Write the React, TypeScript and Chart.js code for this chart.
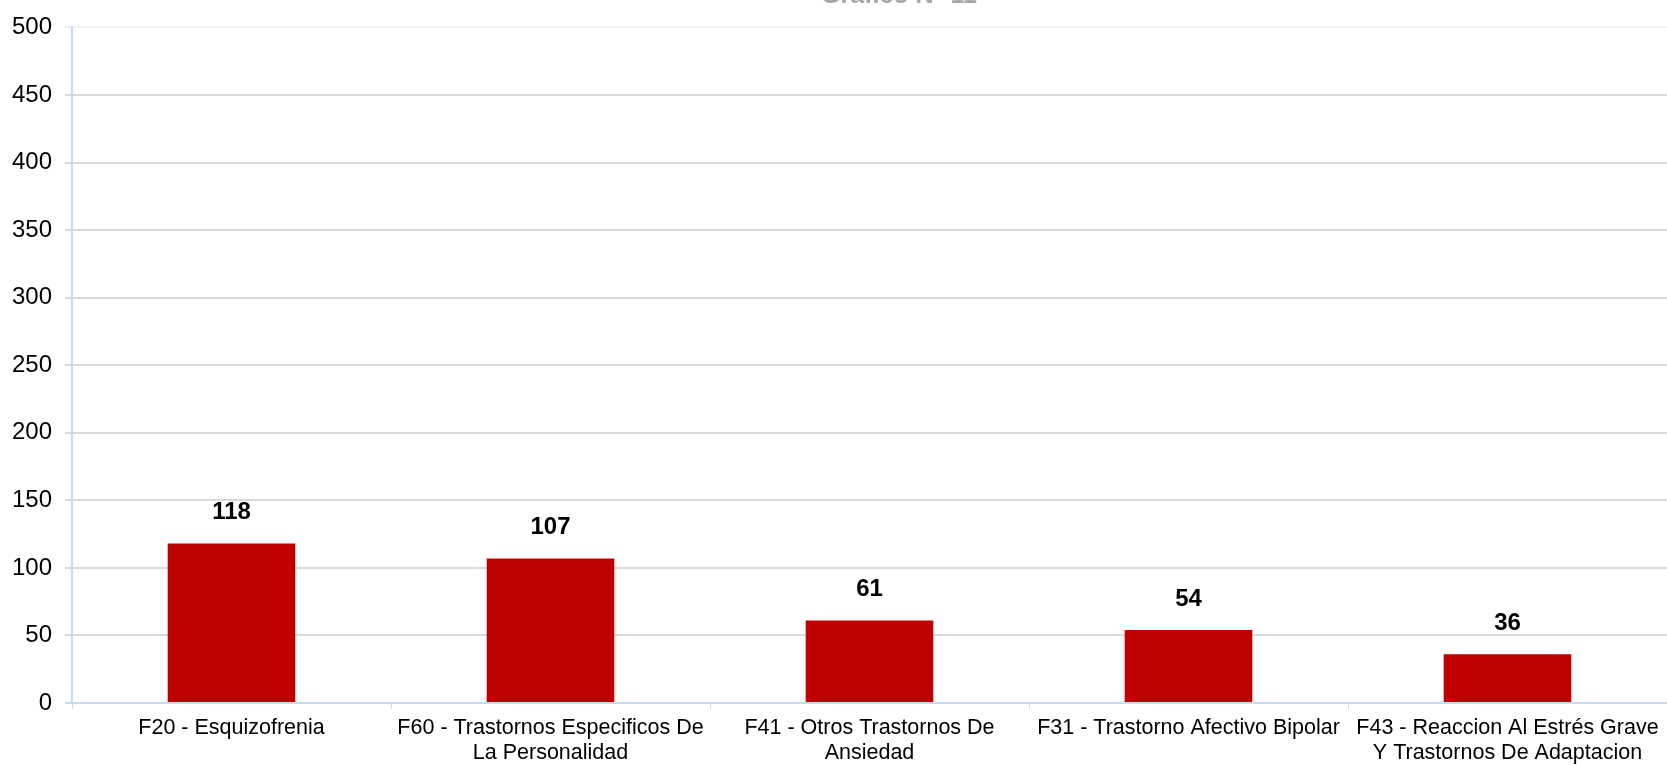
import React, { useEffect, useRef } from "react";
import { Chart, registerables } from "chart.js";

Chart.register(...registerables);

const categories: string[][] = [
  ["F20 - Esquizofrenia"],
  ["F60 - Trastornos Especificos De", "La Personalidad"],
  ["F41 - Otros Trastornos De", "Ansiedad"],
  ["F31 - Trastorno Afectivo Bipolar"],
  ["F43 - Reaccion Al Estrés Grave", "Y Trastornos De Adaptacion"],
];
const values: number[] = [118, 107, 61, 54, 36];
const titleText = "Gráfico N° 11";
const yMax = 500;
const yStep = 50;

const FONT = "'Liberation Sans', Arial, sans-serif";

export default function App() {
  const ref = useRef<HTMLCanvasElement | null>(null);

  useEffect(() => {
    document.body.style.margin = "0";
    if (!ref.current) return;

    const labelPlugin = {
      id: "valueLabels",
      afterDatasetsDraw(chart: any) {
        const ctx = chart.ctx;
        const meta = chart.getDatasetMeta(0);
        ctx.save();
        ctx.font = `bold 24px ${FONT}`;
        ctx.fillStyle = "#000000";
        ctx.textAlign = "center";
        ctx.textBaseline = "middle";
        meta.data.forEach((bar: any, i: number) => {
          ctx.fillText(String(values[i]), bar.x, bar.y - 31);
        });
        ctx.restore();
      },
      afterDraw(chart: any) {
        const ctx = chart.ctx;
        ctx.save();
        ctx.font = `bold 25px ${FONT}`;
        ctx.fillStyle = "#a6a6a6";
        ctx.textAlign = "center";
        ctx.textBaseline = "alphabetic";
        ctx.fillText(titleText, 899, 3);
        ctx.restore();
      },
    };

    const chart = new Chart(ref.current, {
      type: "bar",
      data: {
        labels: categories,
        datasets: [
          {
            data: values,
            backgroundColor: "#c00000",
            borderWidth: 0,
            barPercentage: 1,
            categoryPercentage: 0.4,
          },
        ],
      },
      options: {
        animation: false,
        responsive: false,
        maintainAspectRatio: false,
        layout: { padding: { top: 22, right: 0, left: 0, bottom: 0 } },
        plugins: {
          legend: { display: false },
          tooltip: { enabled: false },
          title: { display: false },
        },
        scales: {
          x: {
            afterFit: (s: any) => {
              s.height = 62;
            },
            border: { color: "#c6dbef", width: 2 },
            grid: {
              display: true,
              drawOnChartArea: false,
              drawTicks: true,
              tickLength: 6,
              color: "#c6dbef",
              offset: true,
            },
            ticks: {
              autoSkip: false,
              maxRotation: 0,
              minRotation: 0,
              padding: 6,
              color: "#000000",
              font: { family: FONT, size: 21.5, lineHeight: 1.18 },
            },
          },
          y: {
            min: 0,
            max: yMax,
            afterFit: (s: any) => {
              s.width = 72;
            },
            border: { color: "#c6dbef", width: 2 },
            grid: {
              color: (c: any) =>
                c.tick && c.tick.value === yMax
                  ? "#eef3f9"
                  : c.tick && c.tick.value === 0
                  ? "#c6dbef"
                  : "#d9d9d9",
              lineWidth: 2,
              tickLength: 7,
            },
            ticks: {
              stepSize: yStep,
              padding: 13,
              color: "#000000",
              font: { family: FONT, size: 24 },
            },
          },
        },
      },
      plugins: [labelPlugin],
    });

    return () => chart.destroy();
  }, []);

  return (
    <div style={{ position: "absolute", left: 0, top: 0, width: 1667, height: 765 }}>
      <canvas ref={ref} width={1667} height={765} style={{ width: 1667, height: 765 }} />
    </div>
  );
}
